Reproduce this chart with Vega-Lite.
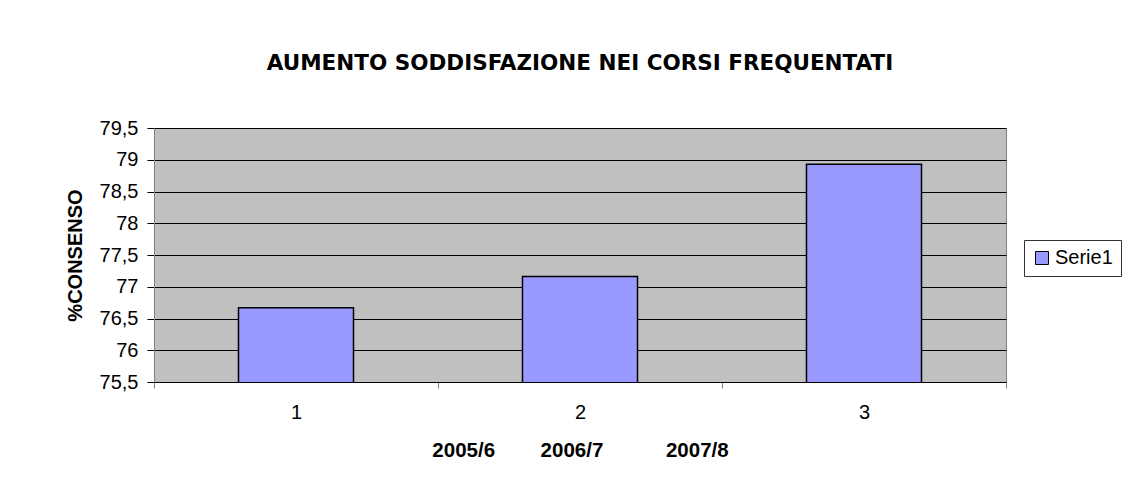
{
  "$schema": "https://vega.github.io/schema/vega-lite/v6.json",
  "width": 852,
  "height": 254,
  "autosize": "none",
  "padding": {"left": 154, "top": 128, "right": 124, "bottom": 102},
  "background": "white",
  "title": {
    "text": "AUMENTO SODDISFAZIONE NEI CORSI FREQUENTATI",
    "font": "DejaVu Sans",
    "fontSize": 21.5,
    "fontWeight": "bold",
    "color": "black",
    "anchor": "middle",
    "frame": "group",
    "offset": 44
  },
  "data": {
    "values": [
      {"anno": "1", "serie": "Serie1", "consenso": 76.67},
      {"anno": "2", "serie": "Serie1", "consenso": 77.16},
      {"anno": "3", "serie": "Serie1", "consenso": 78.93}
    ]
  },
  "mark": {"type": "bar", "width": {"band": 0.405}, "stroke": "black", "strokeWidth": 1.5, "clip": true},
  "encoding": {
    "x": {
      "field": "anno",
      "type": "ordinal",
      "scale": {"paddingInner": 0, "paddingOuter": 0},
      "axis": {
        "title": "2005/6\u00a0\u00a0\u00a0\u00a0\u00a0\u00a0\u00a0\u00a02006/7\u00a0\u00a0\u00a0\u00a0\u00a0\u00a0\u00a0\u00a0\u00a0\u00a0\u00a02007/8",
        "titleFont": "Liberation Sans",
        "titleFontSize": 20.5,
        "titleFontWeight": "bold",
        "titleColor": "black",
        "titlePadding": 18,
        "labelAngle": 0,
        "labelFont": "Liberation Sans",
        "labelFontSize": 20,
        "labelColor": "black",
        "labelPadding": 14,
        "tickBand": "extent",
        "tickSize": 6,
        "tickColor": "#808080",
        "domainColor": "black",
        "grid": false
      }
    },
    "y": {
      "field": "consenso",
      "type": "quantitative",
      "scale": {"domain": [75.5, 79.5], "zero": false, "nice": false},
      "axis": {
        "title": "%CONSENSO",
        "titleFont": "Liberation Sans",
        "titleFontSize": 20,
        "titleFontWeight": "bold",
        "titleColor": "black",
        "titlePadding": 14,
        "values": [75.5, 76, 76.5, 77, 77.5, 78, 78.5, 79, 79.5],
        "labelExpr": "replace(toString(datum.value), '.', ',')",
        "labelFont": "Liberation Sans",
        "labelFontSize": 20,
        "labelColor": "black",
        "labelPadding": 9,
        "tickSize": 7,
        "tickColor": "black",
        "domainColor": "#808080",
        "grid": true,
        "gridColor": "black",
        "gridWidth": 1,
        "gridOpacity": 1
      }
    },
    "color": {
      "field": "serie",
      "type": "nominal",
      "scale": {"range": ["#9999FF"]},
      "legend": {
        "title": null,
        "orient": "none",
        "legendX": 870,
        "legendY": 112,
        "symbolType": "square",
        "symbolSize": 169,
        "symbolStrokeColor": "black",
        "symbolStrokeWidth": 1,
        "symbolOpacity": 1,
        "labelFont": "Liberation Sans",
        "labelFontSize": 20,
        "labelColor": "black",
        "labelOffset": 3,
        "padding": 8,
        "strokeColor": "#333333",
        "fillColor": "white"
      }
    }
  },
  "config": {
    "view": {"fill": "#C0C0C0", "stroke": "#808080", "strokeWidth": 1}
  }
}
